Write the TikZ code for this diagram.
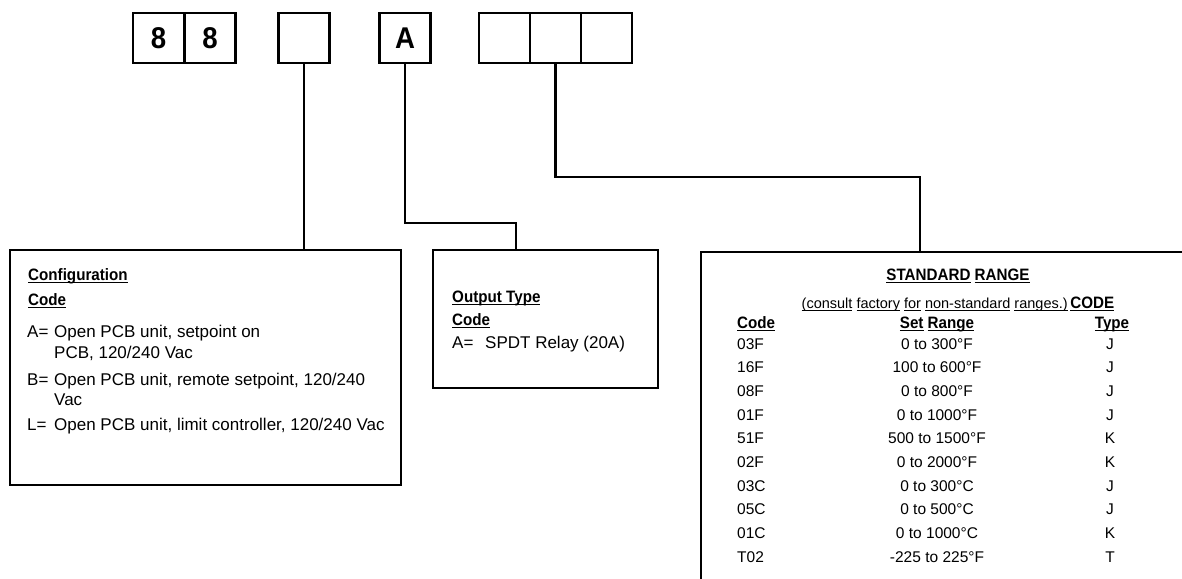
\documentclass[tikz,border=0pt]{standalone}
\usepackage{fontspec}
\setmainfont{Liberation Sans}[BoldFeatures={FakeStretch=0.92}]
\newcommand\uw[1]{\sbox0{#1}\rlap{\rule[-3pt]{\wd0}{1.4pt}}\usebox0}
\newcommand\bodyfont{\fontsize{17}{20}\selectfont}
\newcommand\tabfont{\fontsize{15.5}{19}\selectfont}
\newcommand\smallfont{\fontsize{14.5}{17}\selectfont}
\newcommand\headfont{\fontsize{16.5}{20}\selectfont\bfseries}
\begin{document}
\begin{tikzpicture}[x=1pt,y=-1pt,
  digitbox/.style={draw,line width=2.6pt,minimum width=51pt,minimum height=50pt,inner sep=0pt,outer sep=0pt,font=\fontsize{30}{31}\selectfont\bfseries},
  panel/.style={draw,line width=2.6pt,anchor=north west,inner sep=0pt,outer sep=0pt},
  link/.style={line width=2.6pt},
  txt/.style={anchor=base west,inner sep=0pt,font=\bodyfont},
  htxt/.style={anchor=base west,inner sep=0pt,font=\headfont},
  ttxt/.style={inner sep=0pt,font=\tabfont}]
\useasboundingbox (0,0) rectangle (1182,578);
\clip (0,0) rectangle (1182,578);
% top code boxes
\node[digitbox] (b1) at (158.5,38) {8};
\node[digitbox] (b2) at (210,38) {8};
\node[digitbox] (b3) at (304,38) {};
\node[digitbox] (b4) at (405,38) {A};
\node[digitbox] (b5) at (504.5,38) {};
\node[digitbox] (b6) at (555.5,38) {};
\node[digitbox] (b7) at (606.5,38) {};
% panels
\node[panel,minimum width=391pt,minimum height=235pt] (cfg) at (10,250) {};
\node[panel,minimum width=225pt,minimum height=138pt] (out) at (433,250) {};
\node[panel,minimum width=600pt,minimum height=400pt] (rng) at (701,252) {};
% connectors
\coordinate (k2) at (516,223);
\coordinate (k3) at (920,177);
\draw[link] (b3.south) -- (b3.south |- cfg.north);
\draw[link] (b4.south) |- (k2) -- (k2 |- out.north);
\draw[link] (b6.south) |- (k3) -- (k3 |- rng.north);
% configuration text
\node[htxt] (cfgh1) at (28,280) {\uw{Configuration}};
\node[htxt] (cfgh2) at (28,305) {\uw{Code}};
\node[txt] (cfga) at (27,337) {A=};
\node[txt] (cfgat) at (54,337) {Open PCB unit, setpoint on};
\node[txt] (cfgat2) at (54,358) {PCB, 120/240 Vac};
\node[txt] (cfgb) at (27,385) {B=};
\node[txt] (cfgbt) at (54,385) {Open PCB unit, remote setpoint, 120/240};
\node[txt] (cfgbt2) at (54,405) {Vac};
\node[txt] (cfgl) at (27,430) {L=};
\node[txt] (cfglt) at (54,430) {Open PCB unit, limit controller, 120/240 Vac};
% output text
\node[htxt] (outh1) at (452,302) {\uw{Output Type}};
\node[htxt] (outh2) at (452,325) {\uw{Code}};
\node[txt] (outa) at (452,348) {A=};
\node[txt] (outat) at (485,348) {SPDT Relay (20A)};
% range table
\node[htxt,anchor=base] (rngh1) at (958,280) {\uw{STANDARD} \uw{RANGE}};
\node[anchor=base,inner sep=0pt] (rngh2) at (958,308) {{\smallfont\uw{(consult} \uw{factory} \uw{for} \uw{non-standard} \uw{ranges.)}} {\headfont\uw{CODE}}};
\node[htxt] (colc) at (737,328) {\uw{Code}};
\node[htxt,anchor=base] (cols) at (937,328) {\uw{Set} \uw{Range}};
\node[htxt,anchor=base] (colt) at (1112,328) {\uw{Type}};
\foreach \c/\r/\t [count=\i from 0] in {03F/0 to 300°F/J,16F/100 to 600°F/J,08F/0 to 800°F/J,01F/0 to 1000°F/J,51F/500 to 1500°F/K,02F/0 to 2000°F/K,03C/0 to 300°C/J,05C/0 to 500°C/J,01C/0 to 1000°C/K,T02/-225 to 225°F/T}{
  \node[ttxt,anchor=base west] (rc\i) at (737,349+23.7*\i) {\c};
  \node[ttxt,anchor=base] (rr\i) at (937,349+23.7*\i) {\r};
  \node[ttxt,anchor=base] (rt\i) at (1110,349+23.7*\i) {\t};
}
\end{tikzpicture}
\end{document}
